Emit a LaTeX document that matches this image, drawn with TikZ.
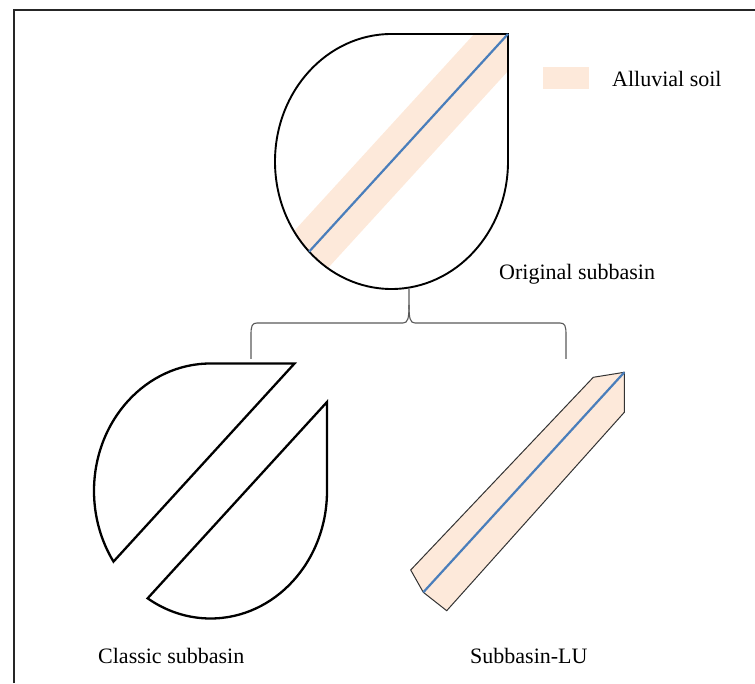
\documentclass[tikz,border=0pt]{standalone}
\usepackage{fontspec}
\setmainfont{Liberation Serif}
\definecolor{alluvial}{HTML}{FDE9DA}
\definecolor{river}{HTML}{4A7EBB}
\newcommand\tdrx{116.5}
\newcommand\tdry{127.5}
\newcommand\tdpath{(-\tdrx,0) arc[start angle=180,end angle=90,x radius=\tdrx,y radius=\tdry] -- (\tdrx,\tdry) -- (\tdrx,0) arc[start angle=0,end angle=-180,x radius=\tdrx,y radius=\tdry] -- cycle}
\begin{document}
\begin{tikzpicture}[x=1pt,y=1pt,
  outline/.style={draw=black,line width=1.9pt},
  thickoutline/.style={draw=black,line width=2.3pt},
  txt/.style={anchor=base west,inner sep=0pt,font=\fontsize{22}{26}\selectfont},
  riverline/.style={draw=river,line width=2.2pt},
  bracestyle/.style={draw=black!65,line width=1.1pt},
  frameline/.style={draw=black!85,line width=2.2pt},
  legendbox/.style={fill=alluvial,draw=none,minimum width=46pt,minimum height=22pt,inner sep=0pt}]
\useasboundingbox (0,0) rectangle (755,683);
% frame
\draw[frameline] (14,0) -- (14,673) -- (755,673);
% original subbasin
\begin{scope}[shift={(391.5,521.5)}]
  \begin{scope}
    \clip \tdpath;
    \draw[alluvial,line width=50pt] (163.1,178.5) -- (-174.75,-191.25);
  \end{scope}
  \draw[outline] \tdpath;
  \coordinate (corner) at (\tdrx,\tdry);
  \coordinate (outlet) at (-82.38,-90.16);
  \coordinate (bottom) at (17.5,-127.5);
  \draw[riverline] (corner) -- (outlet);
\end{scope}
% legend
\node[legendbox] (legend) at (566,605) {};
\node[txt] (alluvialtxt) at (612,596) {Alluvial soil};
\node[txt] (origtxt) at (499,403) {Original subbasin};
% brace
\coordinate (bl) at (251,324);
\coordinate (br) at (566,324);
\draw[bracestyle] (bl) -- (251,348) .. controls (251,357) and (252,360) .. (257,360) -- (403,360) .. controls (408,360) and (409,365) .. (409,378) -- (bottom);
\draw[bracestyle] (409,378) .. controls (409,365) and (410,360) .. (415,360) -- (560,360) .. controls (565,360) and (566,357) .. (566,348) -- (br);
% classic subbasin
\begin{scope}[shift={(210.5,192)}]
  \draw[thickoutline] (84,\tdry) -- (0,\tdry) arc[start angle=90,end angle=213.62,x radius=\tdrx,y radius=\tdry] -- cycle;
  \draw[thickoutline] (\tdrx,89) -- (\tdrx,0) arc[start angle=0,end angle=-122.66,x radius=\tdrx,y radius=\tdry] -- cycle;
\end{scope}
\node[txt] (classictxt) at (98,20) {Classic subbasin};
% subbasin-LU
\coordinate (lu1) at (624.3,310.7);
\coordinate (lu2) at (624.3,270.7);
\coordinate (lu3) at (446.7,72.3);
\coordinate (lu4) at (423.3,90.7);
\coordinate (lu5) at (410.7,113);
\coordinate (lu6) at (593.3,305.7);
\draw[draw=black!80,line width=1pt,fill=alluvial] (lu1) -- (lu2) -- (lu3) -- (lu4) -- (lu5) -- (lu6) -- cycle;
\draw[riverline] (lu1) -- (lu4);
\node[txt] (lutxt) at (470,20) {Subbasin-LU};
\end{tikzpicture}
\end{document}
